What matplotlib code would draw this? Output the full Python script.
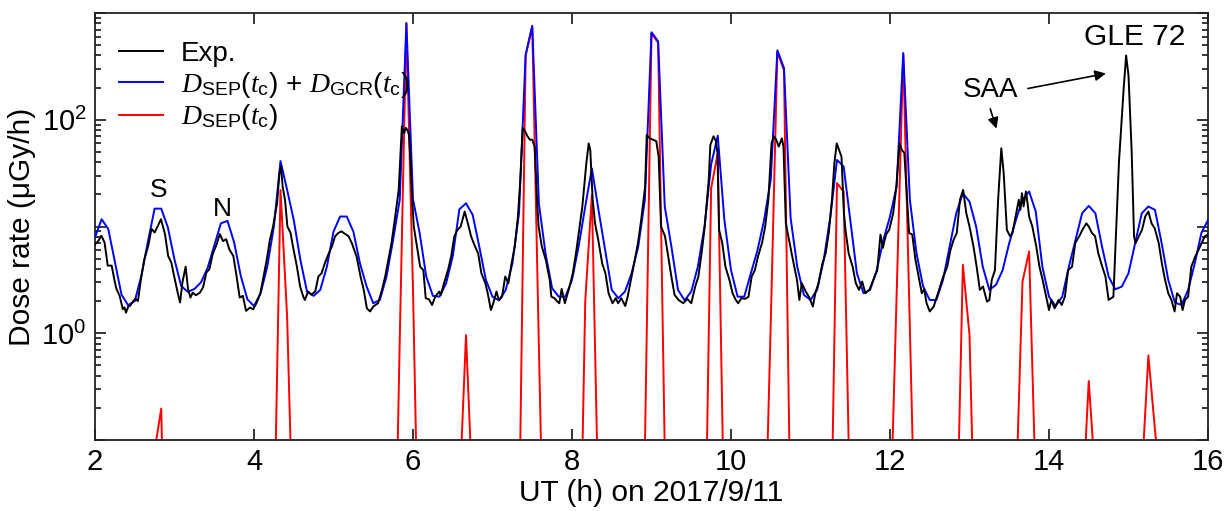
import numpy as np
import matplotlib
matplotlib.use("Agg")
import matplotlib.pyplot as plt
from matplotlib.ticker import LogLocator, FuncFormatter, NullFormatter, FixedLocator

plt.rcParams["font.family"] = ["Liberation Sans", "DejaVu Sans"]
plt.rcParams["mathtext.fontset"] = "custom"
plt.rcParams["mathtext.rm"] = "Liberation Sans"
plt.rcParams["mathtext.it"] = "Liberation Serif:italic"
plt.rcParams["mathtext.bf"] = "Liberation Sans:bold"

# model output, 5-min steps starting 02:00 UT (uGy/h)
MODEL_T0 = 2.0
MODEL_DT_MIN = 5
TOTAL = [
    7.9, 11.7, 9.5, 4.7, 2.3, 1.83, 2.0, 3.45, 7.3, 14.7, 14.7, 9.8,
    4.9, 2.78, 2.44, 2.6, 3.0, 4.1, 6.6, 10.7, 11.3, 7.1, 3.45, 2.08,
    1.8, 2.37, 4.2, 10, 41, 22, 11.5, 4.87, 2.46, 2.24, 2.55, 4.2,
    8.96, 12.4, 12.4, 8.96, 4.5, 2.74, 1.91, 2.05, 3.4, 7.5, 17.8, 807,
    18, 8.7, 3.4, 2.24, 2.2, 2.94, 5.25, 14.5, 16.5, 12.9, 6.5, 3.16,
    2.2, 2.03, 2.55, 4.5, 13.3, 407, 760, 16.5, 5.6, 2.64, 2.2, 2.2,
    3.16, 6.5, 15.4, 35, 14.3, 6.0, 2.55, 2.13, 2.46, 3.65, 6.5, 17.8,
    660, 543, 15.4, 6.5, 2.55, 2.03, 2.46, 4.2, 10, 38, 71, 11.5,
    3.9, 2.2, 2.2, 3.65, 6.0, 11.5, 27.4, 447, 305, 12, 4.2, 2.29,
    2.05, 2.55, 4.87, 12.4, 42, 36.5, 11.5, 3.65, 2.37, 2.55, 3.9, 7.5,
    12.4, 23.7, 422, 17.8, 5.6, 2.74, 2.05, 2.05, 3.16, 6.5, 13.3, 20.5,
    17.1, 10, 4.2, 2.55, 2.84, 3.9, 7.0, 11.5, 17.8, 21.3, 13.8, 4.2,
    2.2, 1.8, 2.2, 4.2, 7.5, 13.3, 15.6, 13.3, 6.5, 3.4, 2.58, 2.74,
    3.65, 7.0, 13.3, 15.4, 14.3, 7.0, 3.16, 1.94, 1.84, 2.55, 4.5, 8.7,
    11.5,
]

# SEP-only component: nonzero model steps (index into the 5-min grid)
SEP_IDX = [9, 10, 11,
           27, 28, 29, 30,
           45, 46, 47, 48, 49,
           55, 56, 57,
           64, 65, 66, 67, 68,
           73, 74, 75, 76,
           83, 84, 85, 86,
           92, 93, 94, 95,
           101, 102, 103, 104, 105,
           111, 112, 113, 114,
           120, 121, 122, 123, 124,
           130, 131, 132, 133,
           139, 140, 141, 142,
           149, 150, 151,
           158, 159, 160, 161]
SEP_VAL = [0.08, 0.197, 0.0002,
           0.01, 22, 1.43, 0.007,
           0.0006, 0.87, 790, 2.55, 0.002,
           0.03, 0.96, 0.03,
           0.0126, 395, 745, 0.76, 0.001,
           0.001, 2.0, 19.8, 0.02,
           0.08, 645, 528, 0.08,
           0.0034, 22.8, 48.7, 0.0126,
           0.005, 1.24, 432, 290, 0.013,
           0.005, 25.5, 21.2, 0.017,
           0.0126, 2.3, 410, 1.09, 0.003,
           0.007, 4.37, 0.96, 0.0033,
           0.027, 3.05, 5.84, 0.036,
           0.021, 0.357, 0.043,
           0.046, 0.62, 0.124, 0.03]
SEP_FLOOR = 1e-4

# measured dose rate (UT hour, uGy/h)
EXP_T = [
    2.00, 2.04, 2.08, 2.12, 2.16, 2.21, 2.25, 2.27, 2.31, 2.35, 2.37, 2.39,
    2.42, 2.44, 2.48, 2.51, 2.54, 2.58, 2.62, 2.67, 2.71, 2.75, 2.79, 2.83,
    2.88, 2.92, 2.96, 3.00, 3.04, 3.07, 3.10, 3.14, 3.17, 3.20, 3.23, 3.27,
    3.32, 3.36, 3.40, 3.44, 3.48, 3.53, 3.57, 3.61, 3.65, 3.69, 3.74, 3.78,
    3.82, 3.86, 3.90, 3.95, 3.99, 4.03, 4.08, 4.12, 4.16, 4.20, 4.24, 4.29,
    4.32, 4.34, 4.36, 4.39, 4.42, 4.46, 4.49, 4.54, 4.58, 4.62, 4.64, 4.68,
    4.72, 4.77, 4.81, 4.85, 4.89, 4.94, 4.98, 5.02, 5.06, 5.10, 5.15, 5.19,
    5.23, 5.29, 5.34, 5.38, 5.42, 5.46, 5.50, 5.56, 5.61, 5.65, 5.69, 5.73,
    5.77, 5.82, 5.86, 5.89, 5.91, 5.93, 5.95, 5.97, 5.99, 6.01, 6.05, 6.09,
    6.13, 6.16, 6.20, 6.24, 6.28, 6.33, 6.35, 6.39, 6.44, 6.48, 6.52, 6.56,
    6.60, 6.65, 6.69, 6.73, 6.78, 6.82, 6.86, 6.91, 6.94, 6.98, 7.01, 7.05,
    7.08, 7.12, 7.16, 7.20, 7.24, 7.28, 7.32, 7.35, 7.38, 7.41, 7.44, 7.47,
    7.50, 7.53, 7.56, 7.58, 7.62, 7.67, 7.72, 7.74, 7.78, 7.81, 7.84, 7.87,
    7.91, 7.97, 8.01, 8.05, 8.09, 8.13, 8.18, 8.21, 8.23, 8.26, 8.29, 8.33,
    8.38, 8.42, 8.46, 8.51, 8.55, 8.58, 8.62, 8.67, 8.70, 8.75, 8.79, 8.83,
    8.87, 8.92, 8.94, 8.98, 9.02, 9.06, 9.09, 9.12, 9.17, 9.21, 9.25, 9.29,
    9.34, 9.40, 9.45, 9.50, 9.55, 9.59, 9.63, 9.67, 9.72, 9.74, 9.78, 9.81,
    9.83, 9.85, 9.89, 9.93, 9.98, 10.02, 10.06, 10.09, 10.13, 10.18, 10.22, 10.26,
    10.30, 10.34, 10.39, 10.43, 10.47, 10.51, 10.54, 10.57, 10.60, 10.64, 10.66, 10.69,
    10.73, 10.77, 10.83, 10.86, 10.89, 10.94, 10.98, 11.03, 11.06, 11.10, 11.15, 11.19,
    11.23, 11.27, 11.30, 11.33, 11.36, 11.39, 11.42, 11.44, 11.48, 11.53, 11.57, 11.61,
    11.65, 11.69, 11.74, 11.79, 11.84, 11.88, 11.91, 11.95, 11.99, 12.04, 12.08, 12.12,
    12.15, 12.18, 12.21, 12.24, 12.28, 12.32, 12.36, 12.40, 12.43, 12.46, 12.50, 12.55,
    12.59, 12.63, 12.67, 12.72, 12.76, 12.80, 12.84, 12.88, 12.92, 12.96, 13.00, 13.05,
    13.09, 13.13, 13.17, 13.22, 13.25, 13.28, 13.32, 13.36, 13.40, 13.43, 13.47, 13.51,
    13.54, 13.58, 13.62, 13.64, 13.66, 13.68, 13.71, 13.73, 13.75, 13.79, 13.84, 13.88,
    13.92, 13.96, 14.00, 14.03, 14.07, 14.12, 14.16, 14.20, 14.24, 14.29, 14.33, 14.38,
    14.42, 14.47, 14.50, 14.54, 14.58, 14.62, 14.67, 14.71, 14.75, 14.81, 14.88, 14.94,
    14.97, 15.00, 15.04, 15.07, 15.09, 15.13, 15.17, 15.21, 15.25, 15.29, 15.33, 15.38,
    15.42, 15.46, 15.50, 15.54, 15.58, 15.61, 15.65, 15.68, 15.71, 15.75, 15.79, 15.84,
    15.88, 15.92, 15.96, 16.00,
]
EXP_V = [
    6.8, 7.3, 8.2, 7.1, 4.3, 4.3, 3.0, 2.6, 2.24, 1.68, 1.75, 1.56,
    1.8, 1.8, 2.0, 2.1, 2.0, 3.3, 4.9, 6.6, 9.5, 8.8, 10.1, 11.7,
    8.5, 5.3, 4.6, 3.3, 2.4, 1.94, 3.0, 4.2, 2.6, 2.16, 2.4, 2.27,
    2.4, 2.7, 3.7, 4.0, 5.5, 6.8, 8.5, 7.3, 7.6, 6.1, 5.3, 3.45,
    2.16, 2.24, 1.62, 1.74, 1.68, 1.91, 2.37, 3.4, 4.87, 7.5, 10, 16.5,
    31.6, 36.6, 23.7, 17.8, 10, 8.7, 6.5, 4.2, 2.74, 2.2, 2.05, 2.46,
    2.3, 2.46, 3.4, 3.65, 4.5, 5.6, 6.5, 8.1, 8.7, 9.0, 8.5, 8.1,
    7.0, 5.25, 3.4, 2.55, 1.71, 1.6, 1.78, 1.91, 2.55, 3.4, 4.87, 7.0,
    11.5, 22, 87, 75, 84, 80, 72, 39, 17.8, 10, 6.5, 4.2,
    3.9, 2.13, 2.08, 1.84, 2.2, 2.46, 2.29, 2.94, 3.9, 5.25, 8.1, 9.3,
    10, 13.8, 10.7, 8.1, 6.5, 5.6, 3.65, 2.94, 2.37, 1.65, 1.91, 2.46,
    2.05, 2.2, 3.4, 2.94, 4.5, 6.5, 12.4, 27.4, 84, 78, 70, 65,
    65, 56, 17.8, 10, 6.5, 4.87, 3.16, 2.2, 2.13, 2.0, 1.91, 2.6,
    1.91, 2.74, 3.65, 5.6, 9.3, 15.4, 39, 60, 52, 17.8, 10.7, 7.5,
    4.5, 3.65, 2.37, 1.91, 2.13, 1.91, 2.13, 1.8, 2.2, 3.4, 4.87, 7.0,
    11.5, 23.7, 72, 67, 65, 63, 45, 10, 8.1, 5.25, 3.4, 2.29,
    2.05, 1.91, 2.1, 1.91, 2.74, 3.4, 5.6, 10, 27.4, 58, 70, 63,
    49, 9.3, 7.0, 4.2, 3.16, 2.37, 2.05, 1.91, 2.13, 2.1, 2.2, 3.4,
    3.9, 5.25, 7.0, 10, 17.8, 60, 70, 65, 56, 67, 56, 10.7,
    7.5, 5.25, 3.16, 2.05, 2.94, 2.46, 2.2, 1.78, 2.37, 2.94, 4.5, 5.6,
    8.7, 17.8, 39, 60, 52, 45, 13.3, 9.3, 5.6, 4.2, 2.94, 2.55,
    3.05, 2.37, 2.55, 3.16, 3.9, 8.4, 6.3, 8.4, 9.3, 13.3, 23.7, 60,
    52, 49, 20.5, 8.7, 8.4, 4.87, 3.4, 2.37, 2.6, 1.91, 1.6, 1.78,
    2.2, 2.74, 3.4, 4.2, 6.0, 7.5, 8.7, 17.8, 22, 13.3, 10, 6.5,
    4.2, 2.55, 2.74, 1.98, 2.05, 3.16, 3.9, 17.8, 54, 31.6, 9.3, 8.1,
    8.7, 12.4, 17.8, 14.3, 20.5, 15.4, 21.3, 16.5, 12.4, 10, 6.5, 4.2,
    3.16, 2.29, 1.65, 2.05, 1.71, 2.05, 1.84, 2.2, 3.9, 4.2, 7.0, 8.1,
    9.3, 10.7, 10, 8.7, 8.1, 5.6, 4.2, 3.4, 2.05, 2.2, 40, 200,
    400, 260, 50, 8, 7.0, 8.1, 9.3, 12.4, 13.8, 10.7, 9.6, 7.0,
    4.5, 3.16, 2.37, 2.05, 1.6, 2.37, 2.2, 1.65, 2.05, 2.2, 4.2, 5.25,
    6.0, 7.0, 8.1, 8.4,
]

model_t = MODEL_T0 + np.arange(len(TOTAL)) * MODEL_DT_MIN / 60.0
sep = np.full(len(TOTAL), SEP_FLOOR)
sep[SEP_IDX] = SEP_VAL

W, H = 1231, 511
fig = plt.figure(figsize=(W / 100, H / 100), dpi=100)
ax = fig.add_axes([95 / W, 1 - 440 / H, (1208 - 95) / W, (440 - 13) / H])

l_sep, = ax.plot(model_t, sep, color="#ff0000", lw=1.4, zorder=2)
l_tot, = ax.plot(model_t, TOTAL, color="#0000ff", lw=1.4, zorder=3)
l_exp, = ax.plot(EXP_T, EXP_V, color="black", lw=1.4, zorder=4)

ax.set_yscale("log")
ax.set_xlim(2, 16)
ax.set_ylim(0.1, 1000)
ax.xaxis.set_major_locator(FixedLocator([2, 4, 6, 8, 10, 12, 14, 16]))
ax.yaxis.set_major_locator(LogLocator(base=10, numticks=10))
ax.yaxis.set_minor_locator(LogLocator(base=10, subs=np.arange(2, 10), numticks=20))
ax.yaxis.set_minor_formatter(NullFormatter())


def dec_label(v, pos):
    e = int(round(np.log10(v)))
    if e in (0, 2):
        return r"$\mathregular{10^{%d}}$" % e
    return ""


ax.yaxis.set_major_formatter(FuncFormatter(dec_label))
ax.tick_params(which="both", direction="in", top=True, right=True, width=1.1,
               labelsize=21, colors="black")
ax.tick_params(which="major", length=8, pad=6)
ax.tick_params(which="minor", length=4)
for s in ax.spines.values():
    s.set_linewidth(1.3)
    s.set_color("#222222")

ax.set_xlabel("UT (h) on 2017/9/11", fontsize=21.5, labelpad=2)
ax.set_ylabel("Dose rate (\u03bcGy/h)", fontsize=21.5, labelpad=4)

ax.legend([l_exp, l_tot, l_sep],
          ["Exp.",
           r"$D_{\mathrm{SEP}}(t_{\mathrm{c}})$ + $D_{\mathrm{GCR}}(t_{\mathrm{c}})$",
           r"$D_{\mathrm{SEP}}(t_{\mathrm{c}})$"],
          loc="upper left", bbox_to_anchor=(0.0, 0.99), frameon=False,
          fontsize=20, handlelength=1.6, handletextpad=0.65, labelspacing=0.1,
          borderaxespad=0.45)

ax.text(2.8, 22, "S", fontsize=19, ha="center", va="center")
ax.text(3.6, 14.5, "N", fontsize=19, ha="center", va="center")
ax.text(13.26, 190, "SAA", fontsize=20, ha="center", va="center")
ax.text(15.08, 590, "GLE 72", fontsize=21.5, ha="center", va="center")
arrow = dict(arrowstyle="-|>", color="black", lw=1.2, mutation_scale=16)
ax.annotate("", xy=(13.35, 78), xytext=(13.25, 134), arrowprops=arrow)
ax.annotate("", xy=(14.75, 274), xytext=(13.70, 194), arrowprops=arrow)

fig.savefig("out.png", dpi=100)
